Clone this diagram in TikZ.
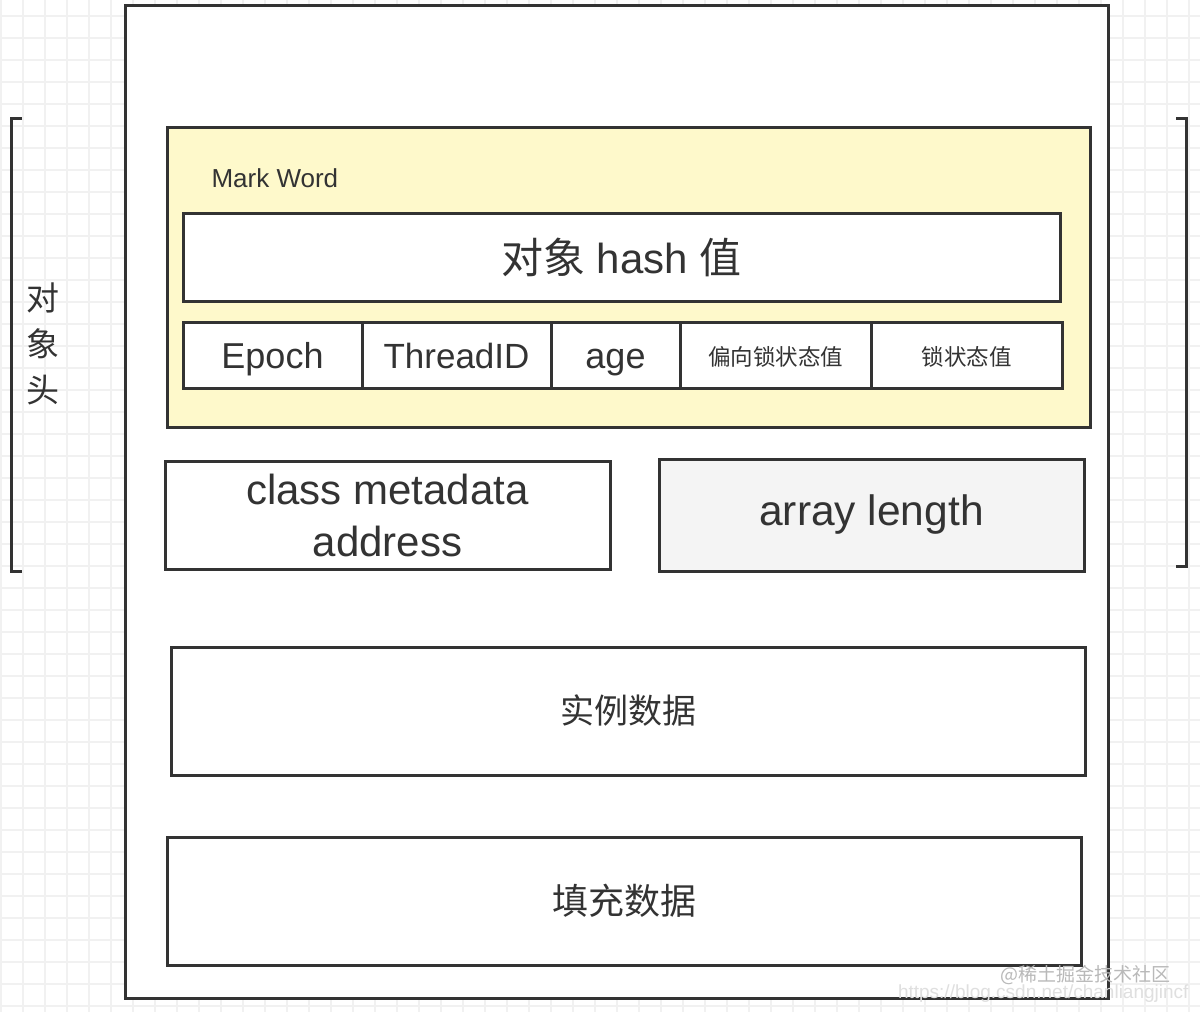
\documentclass[tikz,border=0pt]{standalone}
\usepackage{fontspec}
\setmainfont{Liberation Sans}
\newfontfamily\cjk{Noto Sans CJK SC}
\usepackage{tikz}
\usetikzlibrary{positioning}
\definecolor{ink}{HTML}{333333}
\definecolor{markfill}{HTML}{FEF9CB}
\definecolor{lenfill}{HTML}{F4F4F4}
\tikzset{
  field/.style={draw=ink,line width=3pt,fill=white,text=ink,inner sep=0pt,outer sep=0pt,align=center},
  cell/.style={field,minimum height=66pt,text height=30pt,text depth=4pt},
  cjkcell/.style={cell,text height=22pt,text depth=2pt,font=\cjk\fontsize{22.5pt}{26pt}\selectfont}
}

\begin{document}
\begin{tikzpicture}[x=1pt,y=-1pt]
\useasboundingbox (0,0) rectangle (1200,1012);
\fill[white] (0,0) rectangle (1200,1012);
\foreach \i in {0,...,54} \draw[gray!11,line width=1.5pt] (1+22*\i,0) -- (1+22*\i,1012);
\foreach \j in {0,...,45} \draw[gray!11,line width=1.5pt] (0,16+22*\j) -- (1200,16+22*\j);
\node[field,minimum width=983pt,minimum height=993pt] (obj) at (616.5,501.5) {};
\draw[ink,line width=3pt] (22,118) -- (11,118) -- (11,571) -- (22,571);
\draw[ink,line width=3pt] (1176,118) -- (1186,118) -- (1186,566) -- (1176,566);
\node[text=ink,align=center,font=\cjk\fontsize{33pt}{46pt}\selectfont] (head) at (43,344) {对\\象\\头};
\node[field,fill=markfill,minimum width=923pt,minimum height=300pt] (mark) at (628.5,277) {};
\node[text=ink,anchor=west,font=\fontsize{26pt}{30pt}\selectfont] (marklbl) at (208,178) {Mark Word};
\node[field,minimum width=877pt,minimum height=88pt,font=\fontsize{42pt}{46pt}\selectfont] (hash) at (621.5,257) {{\cjk 对象} hash {\cjk 值}};
\node[cell,minimum width=179pt,font=\fontsize{36pt}{40pt}\selectfont] (epoch) at (272.5,355) {Epoch};
\node[cell,minimum width=189pt,right=0pt of epoch,font=\fontsize{35pt}{40pt}\selectfont] (thread) {ThreadID};
\node[cell,minimum width=129pt,right=0pt of thread,font=\fontsize{36pt}{40pt}\selectfont] (age) {age};
\node[cjkcell,minimum width=191pt,right=0pt of age] (biased) {偏向锁状态值};
\node[cjkcell,minimum width=191pt,right=0pt of biased] (lock) {锁状态值};
\node[field,minimum width=445pt,minimum height=108pt,font=\fontsize{42pt}{52pt}\selectfont] (klass) at (387.5,515) {class metadata\\address};
\node[field,fill=lenfill,minimum width=425pt,minimum height=112pt,font=\fontsize{42.5pt}{46pt}\selectfont] (len) at (871.5,515) {array length};
\node[field,minimum width=914pt,minimum height=128pt,font=\cjk\fontsize{34pt}{40pt}\selectfont] (inst) at (628,711) {实例数据};
\node[field,minimum width=914pt,minimum height=128pt,font=\cjk\fontsize{36pt}{40pt}\selectfont] (pad) at (624,901) {填充数据};
\node[text=gray!55,anchor=east,font=\cjk\fontsize{19pt}{22pt}\selectfont] (wm1) at (1174,975) {@稀土掘金技术社区};
\node[text=gray!25,anchor=east,font=\fontsize{19pt}{22pt}\selectfont] (wm2) at (1192,994) {https://blog.csdn.net/chanliangjincf};
\end{tikzpicture}
\end{document}
